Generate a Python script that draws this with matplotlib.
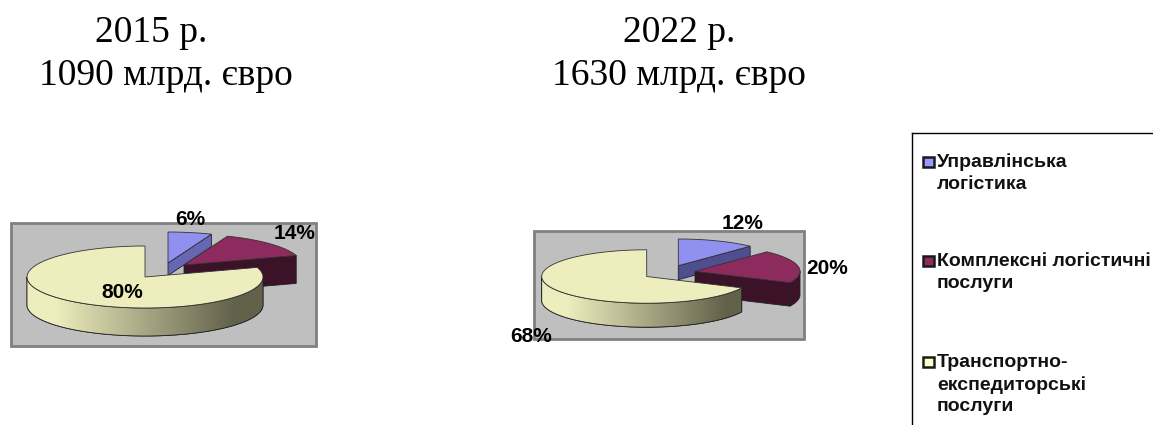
import numpy as np
import matplotlib
matplotlib.use("Agg")
import matplotlib.pyplot as plt
from matplotlib.colors import to_rgb
from matplotlib.patches import Polygon, Rectangle

W, H = 1153, 425

categories = ["Управлінська\nлогістика", "Комплексні логістичні\nпослуги", "Транспортно-\nекспедиторські\nпослуги"]
years = ["2015 р.", "2022 р."]
totals = ["1090 млрд. євро", "1630 млрд. євро"]
shares_2015 = [6, 14, 80]
shares_2022 = [12, 20, 68]

top_colors = ["#9090F0", "#8E2B5E", "#EDEDBE"]
legend_colors = ["#9999FF", "#8E2B5E", "#FFFFCC"]
face_2015 = ["#6666B2", "#3B1228", "#62614A"]
face_2022 = ["#4F4F90", "#3B1228", "#62614A"]


def arc(cx, cy, rx, ry, a0, a1, n=120):
    t = np.radians(np.linspace(a0, a1, n))
    return np.column_stack([cx + rx * np.cos(t), cy - ry * np.sin(t)])


def draw_slice(ax, centre, rx, ry, depth, a0, a1, top, face, z, gradient=False):
    # angles run clockwise from a0 to a1, in degrees
    cx, cy = centre
    down = np.array([0, depth])

    # outer wall, only the front half of the ellipse (0 to -180) can be seen
    wall_a0 = min(a0, 0)
    wall_a1 = max(a1, -180)
    if wall_a0 > wall_a1:
        rim = arc(cx, cy, rx, ry, wall_a0, wall_a1)
        pts = np.vstack([rim, rim[::-1] + down])
        wall = Polygon(pts, closed=True, fc=face, ec="#222222", lw=0.6, zorder=z)
        ax.add_patch(wall)
        if gradient:
            ramp = np.clip((np.linspace(0, 1, 256) - 0.12) / 0.76, 0, 1)[None, :, None]
            img = np.array(to_rgb(top)) * (1 - ramp) + np.array(to_rgb(face)) * ramp
            im = ax.imshow(img, extent=(cx - rx, cx + rx, cy + ry + depth, cy - ry),
                           aspect="auto", zorder=z + 0.1)
            im.set_clip_path(wall)
            ax.add_patch(Polygon(pts, closed=True, fc="none", ec="#222222", lw=0.6, zorder=z + 0.2))

    # cut face at the clockwise end of the slice
    end = arc(cx, cy, rx, ry, a1, a1, 1)[0]
    vertex = np.array([cx, cy])
    if not gradient:
        ax.add_patch(Polygon([vertex, end, end + down, vertex + down], closed=True,
                             fc=face, ec="#222222", lw=0.6, zorder=z))

    # top surface
    outline = np.vstack([vertex, arc(cx, cy, rx, ry, a0, a1)])
    ax.add_patch(Polygon(outline, closed=True, fc=top, ec="#333333", lw=0.6, zorder=z + 0.3))


def draw_pie(ax, shares, centres, rx, ry, depths, faces, base_z):
    start = 90.0
    for i, share in enumerate(shares):
        sweep = share / sum(shares) * 360
        draw_slice(ax, centres[i], rx, ry, depths[i], start, start - sweep,
                   top_colors[i], faces[i], base_z + i, gradient=i == 2)
        start -= sweep


fig = plt.figure(figsize=(W / 100, H / 100), dpi=100)
ax = fig.add_axes([0, 0, 1, 1])

# plot backgrounds
ax.add_patch(Rectangle((11, 223), 305, 123, fc="#BFBFBF", ec="#808080", lw=2, zorder=1))
ax.add_patch(Rectangle((534, 231), 270, 108, fc="#BFBFBF", ec="#808080", lw=2, zorder=1))

draw_pie(ax, shares_2015, [(168, 263), (184, 265), (145, 277)], 118, 31,
         [12.5, 28, 28], face_2015, 2)
draw_pie(ax, shares_2022, [(678.3, 265.7), (695, 271.3), (646.7, 276.5)], 105, 26.7,
         [14, 23.5, 24], face_2022, 2)

# percentage labels
label_pos_2015 = [(190, 219), (295, 233), (122, 293)]
label_pos_2022 = [(743, 223), (827, 268), (531, 336)]
for shares, places in ((shares_2015, label_pos_2015), (shares_2022, label_pos_2022)):
    for share, (x, y) in zip(shares, places):
        ax.text(x, y, f"{share}%", ha="center", va="center", family="Liberation Sans",
                fontweight="bold", fontsize=15, color="black", zorder=10)

# titles
for text, x, y in ((years[0], 151, 33), (totals[0], 166, 76), (years[1], 679, 33), (totals[1], 679, 76)):
    ax.text(x, y, text, ha="center", va="center", family="Liberation Serif", fontsize=27, color="black")

# legend box, runs off the right and bottom of the figure
ax.plot([912, 912], [425, 133], color="black", lw=1)
ax.plot([912, 1153], [133, 133], color="black", lw=1)
legend_y = [161.5, 261, 362]
for label, color, y in zip(categories, legend_colors, legend_y):
    ax.add_patch(Rectangle((922.5, y - 5), 11, 10, fc=color, ec="#1a1a1a", lw=1.8))
    ax.text(937, y - 8, label, ha="left", va="top", family="Liberation Sans",
            fontweight="bold", fontsize=14, linespacing=1.36, color="#111111")

ax.set_xlim(0, W)
ax.set_ylim(H, 0)
ax.axis("off")

fig.savefig("out.png", dpi=100, facecolor="white")
